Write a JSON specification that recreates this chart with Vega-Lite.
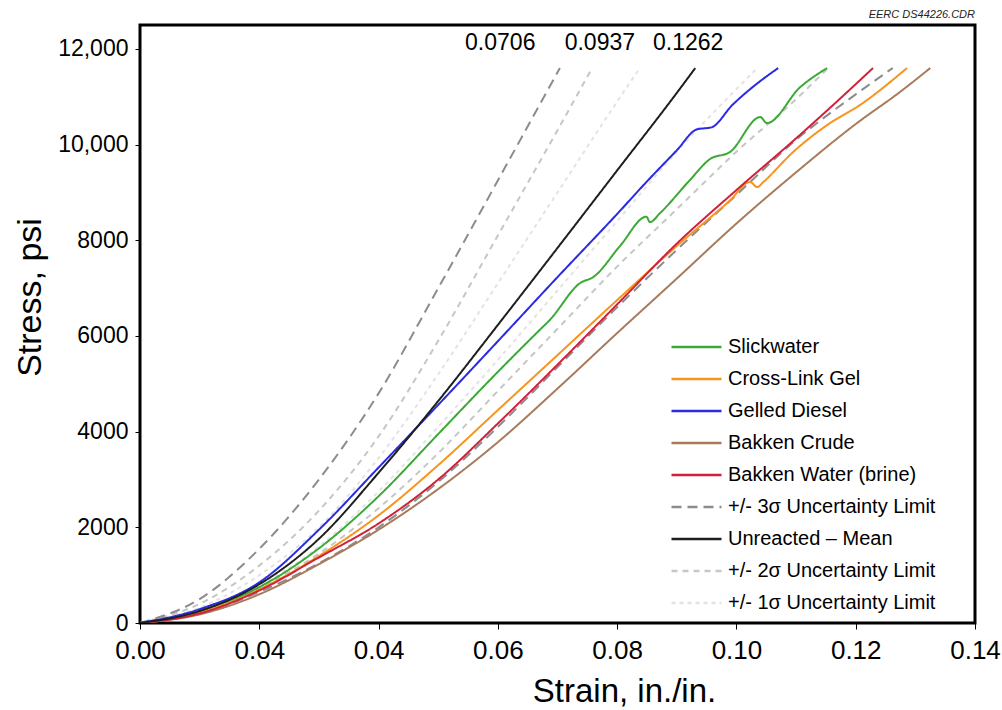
{
  "$schema": "https://vega.github.io/schema/vega-lite/v6.json",
  "autosize": {"type": "none"},
  "padding": {"left": 140, "top": 25, "right": 27, "bottom": 87},
  "width": 835,
  "height": 598,
  "background": "white",
  "title": {"text": "EERC DS44226.CDR", "anchor": "end", "frame": "group", "fontSize": 11, "fontStyle": "italic", "fontWeight": "normal", "font": "Liberation Sans", "color": "#222", "offset": 5},
  "config": {
    "view": {"stroke": "#000", "strokeWidth": 3},
    "axis": {"grid": false, "domain": false, "tickColor": "#000", "labelColor": "#000", "titleColor": "#000", "titleFontWeight": "normal", "labelFlush": false, "labelOverlap": false, "labelBound": false}
  },
  "layer": [
    {
      "data": {"values": [
        {"s":"+/- 1σ Uncertainty Limit","g":"1L","x":0,"y":0},
        {"s":"+/- 1σ Uncertainty Limit","g":"1L","x":0.01,"y":320},
        {"s":"+/- 1σ Uncertainty Limit","g":"1L","x":0.02,"y":1000},
        {"s":"+/- 1σ Uncertainty Limit","g":"1L","x":0.03,"y":2000},
        {"s":"+/- 1σ Uncertainty Limit","g":"1L","x":0.04,"y":3450},
        {"s":"+/- 1σ Uncertainty Limit","g":"1L","x":0.05,"y":5200},
        {"s":"+/- 1σ Uncertainty Limit","g":"1L","x":0.06,"y":7100},
        {"s":"+/- 1σ Uncertainty Limit","g":"1L","x":0.07,"y":9000},
        {"s":"+/- 1σ Uncertainty Limit","g":"1L","x":0.08,"y":10900},
        {"s":"+/- 1σ Uncertainty Limit","g":"1L","x":0.0838,"y":11600},
        {"s":"+/- 1σ Uncertainty Limit","g":"1R","x":0,"y":0},
        {"s":"+/- 1σ Uncertainty Limit","g":"1R","x":0.01,"y":260},
        {"s":"+/- 1σ Uncertainty Limit","g":"1R","x":0.02,"y":780},
        {"s":"+/- 1σ Uncertainty Limit","g":"1R","x":0.03,"y":1600},
        {"s":"+/- 1σ Uncertainty Limit","g":"1R","x":0.04,"y":2750},
        {"s":"+/- 1σ Uncertainty Limit","g":"1R","x":0.05,"y":4100},
        {"s":"+/- 1σ Uncertainty Limit","g":"1R","x":0.06,"y":5500},
        {"s":"+/- 1σ Uncertainty Limit","g":"1R","x":0.07,"y":6950},
        {"s":"+/- 1σ Uncertainty Limit","g":"1R","x":0.08,"y":8400},
        {"s":"+/- 1σ Uncertainty Limit","g":"1R","x":0.09,"y":9850},
        {"s":"+/- 1σ Uncertainty Limit","g":"1R","x":0.1035,"y":11600},
        {"s":"+/- 2σ Uncertainty Limit","g":"2L","x":0,"y":0},
        {"s":"+/- 2σ Uncertainty Limit","g":"2L","x":0.01,"y":400},
        {"s":"+/- 2σ Uncertainty Limit","g":"2L","x":0.02,"y":1200},
        {"s":"+/- 2σ Uncertainty Limit","g":"2L","x":0.03,"y":2350},
        {"s":"+/- 2σ Uncertainty Limit","g":"2L","x":0.04,"y":3900},
        {"s":"+/- 2σ Uncertainty Limit","g":"2L","x":0.05,"y":5900},
        {"s":"+/- 2σ Uncertainty Limit","g":"2L","x":0.06,"y":8100},
        {"s":"+/- 2σ Uncertainty Limit","g":"2L","x":0.07,"y":10300},
        {"s":"+/- 2σ Uncertainty Limit","g":"2L","x":0.0758,"y":11600},
        {"s":"+/- 2σ Uncertainty Limit","g":"2R","x":0,"y":0},
        {"s":"+/- 2σ Uncertainty Limit","g":"2R","x":0.01,"y":230},
        {"s":"+/- 2σ Uncertainty Limit","g":"2R","x":0.02,"y":730},
        {"s":"+/- 2σ Uncertainty Limit","g":"2R","x":0.03,"y":1450},
        {"s":"+/- 2σ Uncertainty Limit","g":"2R","x":0.04,"y":2400},
        {"s":"+/- 2σ Uncertainty Limit","g":"2R","x":0.05,"y":3550},
        {"s":"+/- 2σ Uncertainty Limit","g":"2R","x":0.06,"y":4850},
        {"s":"+/- 2σ Uncertainty Limit","g":"2R","x":0.07,"y":6150},
        {"s":"+/- 2σ Uncertainty Limit","g":"2R","x":0.08,"y":7450},
        {"s":"+/- 2σ Uncertainty Limit","g":"2R","x":0.09,"y":8650},
        {"s":"+/- 2σ Uncertainty Limit","g":"2R","x":0.1,"y":9850},
        {"s":"+/- 2σ Uncertainty Limit","g":"2R","x":0.11,"y":10950},
        {"s":"+/- 2σ Uncertainty Limit","g":"2R","x":0.1154,"y":11600},
        {"s":"+/- 3σ Uncertainty Limit","g":"3L","x":0,"y":0},
        {"s":"+/- 3σ Uncertainty Limit","g":"3L","x":0.01,"y":500},
        {"s":"+/- 3σ Uncertainty Limit","g":"3L","x":0.02,"y":1550},
        {"s":"+/- 3σ Uncertainty Limit","g":"3L","x":0.03,"y":3000},
        {"s":"+/- 3σ Uncertainty Limit","g":"3L","x":0.04,"y":4800},
        {"s":"+/- 3σ Uncertainty Limit","g":"3L","x":0.05,"y":7000},
        {"s":"+/- 3σ Uncertainty Limit","g":"3L","x":0.06,"y":9250},
        {"s":"+/- 3σ Uncertainty Limit","g":"3L","x":0.0704,"y":11600},
        {"s":"+/- 3σ Uncertainty Limit","g":"3R","x":0,"y":0},
        {"s":"+/- 3σ Uncertainty Limit","g":"3R","x":0.01,"y":200},
        {"s":"+/- 3σ Uncertainty Limit","g":"3R","x":0.02,"y":650},
        {"s":"+/- 3σ Uncertainty Limit","g":"3R","x":0.03,"y":1250},
        {"s":"+/- 3σ Uncertainty Limit","g":"3R","x":0.04,"y":2000},
        {"s":"+/- 3σ Uncertainty Limit","g":"3R","x":0.05,"y":2950},
        {"s":"+/- 3σ Uncertainty Limit","g":"3R","x":0.06,"y":4100},
        {"s":"+/- 3σ Uncertainty Limit","g":"3R","x":0.07,"y":5350},
        {"s":"+/- 3σ Uncertainty Limit","g":"3R","x":0.08,"y":6600},
        {"s":"+/- 3σ Uncertainty Limit","g":"3R","x":0.09,"y":7800},
        {"s":"+/- 3σ Uncertainty Limit","g":"3R","x":0.1,"y":8950},
        {"s":"+/- 3σ Uncertainty Limit","g":"3R","x":0.11,"y":10100},
        {"s":"+/- 3σ Uncertainty Limit","g":"3R","x":0.12,"y":11050},
        {"s":"+/- 3σ Uncertainty Limit","g":"3R","x":0.1262,"y":11600},
        {"s":"Bakken Crude","g":"bc","x":0,"y":0},
        {"s":"Bakken Crude","g":"bc","x":0.01,"y":180},
        {"s":"Bakken Crude","g":"bc","x":0.02,"y":600},
        {"s":"Bakken Crude","g":"bc","x":0.03,"y":1230},
        {"s":"Bakken Crude","g":"bc","x":0.04,"y":1950},
        {"s":"Bakken Crude","g":"bc","x":0.05,"y":2800},
        {"s":"Bakken Crude","g":"bc","x":0.06,"y":3780},
        {"s":"Bakken Crude","g":"bc","x":0.07,"y":4900},
        {"s":"Bakken Crude","g":"bc","x":0.08,"y":6060},
        {"s":"Bakken Crude","g":"bc","x":0.09,"y":7200},
        {"s":"Bakken Crude","g":"bc","x":0.1,"y":8350},
        {"s":"Bakken Crude","g":"bc","x":0.11,"y":9420},
        {"s":"Bakken Crude","g":"bc","x":0.12,"y":10430},
        {"s":"Bakken Crude","g":"bc","x":0.1274,"y":11098},
        {"s":"Bakken Crude","g":"bc","x":0.1325,"y":11600},
        {"s":"Cross-Link Gel","g":"cl","x":0,"y":0},
        {"s":"Cross-Link Gel","g":"cl","x":0.01,"y":220},
        {"s":"Cross-Link Gel","g":"cl","x":0.02,"y":700},
        {"s":"Cross-Link Gel","g":"cl","x":0.03,"y":1400},
        {"s":"Cross-Link Gel","g":"cl","x":0.04,"y":2250},
        {"s":"Cross-Link Gel","g":"cl","x":0.05,"y":3300},
        {"s":"Cross-Link Gel","g":"cl","x":0.06,"y":4450},
        {"s":"Cross-Link Gel","g":"cl","x":0.07,"y":5600},
        {"s":"Cross-Link Gel","g":"cl","x":0.08,"y":6750},
        {"s":"Cross-Link Gel","g":"cl","x":0.09,"y":7880},
        {"s":"Cross-Link Gel","g":"cl","x":0.0989,"y":8830},
        {"s":"Cross-Link Gel","g":"cl","x":0.1023,"y":9217},
        {"s":"Cross-Link Gel","g":"cl","x":0.1035,"y":9112},
        {"s":"Cross-Link Gel","g":"cl","x":0.1045,"y":9217},
        {"s":"Cross-Link Gel","g":"cl","x":0.1095,"y":9844},
        {"s":"Cross-Link Gel","g":"cl","x":0.1152,"y":10408},
        {"s":"Cross-Link Gel","g":"cl","x":0.1207,"y":10826},
        {"s":"Cross-Link Gel","g":"cl","x":0.1286,"y":11600},
        {"s":"Bakken Water (brine)","g":"bw","x":0,"y":0},
        {"s":"Bakken Water (brine)","g":"bw","x":0.01,"y":200},
        {"s":"Bakken Water (brine)","g":"bw","x":0.02,"y":680},
        {"s":"Bakken Water (brine)","g":"bw","x":0.03,"y":1370},
        {"s":"Bakken Water (brine)","g":"bw","x":0.04,"y":2080},
        {"s":"Bakken Water (brine)","g":"bw","x":0.05,"y":3000},
        {"s":"Bakken Water (brine)","g":"bw","x":0.06,"y":4170},
        {"s":"Bakken Water (brine)","g":"bw","x":0.07,"y":5400},
        {"s":"Bakken Water (brine)","g":"bw","x":0.08,"y":6660},
        {"s":"Bakken Water (brine)","g":"bw","x":0.09,"y":7930},
        {"s":"Bakken Water (brine)","g":"bw","x":0.1,"y":9050},
        {"s":"Bakken Water (brine)","g":"bw","x":0.11,"y":10130},
        {"s":"Bakken Water (brine)","g":"bw","x":0.1162,"y":10826},
        {"s":"Bakken Water (brine)","g":"bw","x":0.1229,"y":11600},
        {"s":"Slickwater","g":"sw","x":0,"y":0},
        {"s":"Slickwater","g":"sw","x":0.01,"y":260},
        {"s":"Slickwater","g":"sw","x":0.02,"y":750},
        {"s":"Slickwater","g":"sw","x":0.03,"y":1560},
        {"s":"Slickwater","g":"sw","x":0.04,"y":2650},
        {"s":"Slickwater","g":"sw","x":0.05,"y":3950},
        {"s":"Slickwater","g":"sw","x":0.06,"y":5250},
        {"s":"Slickwater","g":"sw","x":0.067,"y":6124},
        {"s":"Slickwater","g":"sw","x":0.0687,"y":6333},
        {"s":"Slickwater","g":"sw","x":0.0738,"y":7106},
        {"s":"Slickwater","g":"sw","x":0.076,"y":7231},
        {"s":"Slickwater","g":"sw","x":0.0806,"y":7900},
        {"s":"Slickwater","g":"sw","x":0.0849,"y":8492},
        {"s":"Slickwater","g":"sw","x":0.0855,"y":8381},
        {"s":"Slickwater","g":"sw","x":0.0872,"y":8569},
        {"s":"Slickwater","g":"sw","x":0.0922,"y":9259},
        {"s":"Slickwater","g":"sw","x":0.0956,"y":9700},
        {"s":"Slickwater","g":"sw","x":0.0989,"y":9844},
        {"s":"Slickwater","g":"sw","x":0.104,"y":10575},
        {"s":"Slickwater","g":"sw","x":0.1051,"y":10450},
        {"s":"Slickwater","g":"sw","x":0.1107,"y":11202},
        {"s":"Slickwater","g":"sw","x":0.1152,"y":11600},
        {"s":"Gelled Diesel","g":"gd","x":0,"y":0},
        {"s":"Gelled Diesel","g":"gd","x":0.01,"y":290},
        {"s":"Gelled Diesel","g":"gd","x":0.02,"y":850},
        {"s":"Gelled Diesel","g":"gd","x":0.03,"y":1950},
        {"s":"Gelled Diesel","g":"gd","x":0.04,"y":3250},
        {"s":"Gelled Diesel","g":"gd","x":0.05,"y":4560},
        {"s":"Gelled Diesel","g":"gd","x":0.06,"y":5890},
        {"s":"Gelled Diesel","g":"gd","x":0.07,"y":7230},
        {"s":"Gelled Diesel","g":"gd","x":0.08,"y":8550},
        {"s":"Gelled Diesel","g":"gd","x":0.085,"y":9230},
        {"s":"Gelled Diesel","g":"gd","x":0.09,"y":9880},
        {"s":"Gelled Diesel","g":"gd","x":0.0934,"y":10320},
        {"s":"Gelled Diesel","g":"gd","x":0.0958,"y":10360},
        {"s":"Gelled Diesel","g":"gd","x":0.0993,"y":10826},
        {"s":"Gelled Diesel","g":"gd","x":0.103,"y":11230},
        {"s":"Gelled Diesel","g":"gd","x":0.107,"y":11600},
        {"s":"Unreacted – Mean","g":"mn","x":0,"y":0},
        {"s":"Unreacted – Mean","g":"mn","x":0.01,"y":250},
        {"s":"Unreacted – Mean","g":"mn","x":0.02,"y":810},
        {"s":"Unreacted – Mean","g":"mn","x":0.03,"y":1760},
        {"s":"Unreacted – Mean","g":"mn","x":0.04,"y":3140},
        {"s":"Unreacted – Mean","g":"mn","x":0.05,"y":4640},
        {"s":"Unreacted – Mean","g":"mn","x":0.06,"y":6230},
        {"s":"Unreacted – Mean","g":"mn","x":0.07,"y":7840},
        {"s":"Unreacted – Mean","g":"mn","x":0.08,"y":9460},
        {"s":"Unreacted – Mean","g":"mn","x":0.09,"y":11080},
        {"s":"Unreacted – Mean","g":"mn","x":0.0931,"y":11600}
      ]},
      "mark": {"type": "line", "strokeWidth": 2, "clip": true, "interpolate": "monotone"},
      "encoding": {
        "x": {"field": "x", "type": "quantitative", "scale": {"domain": [0, 0.14], "nice": false, "zero": false},
          "axis": {"title": "Strain, in./in.", "values": [0, 0.02, 0.04, 0.06, 0.08, 0.1, 0.12, 0.14], "format": ".2f",
            "labelExpr": "datum.label == '0.02' ? '0.04' : datum.label",
            "labelFont": "Liberation Sans", "labelFontSize": 26, "tickSize": 6, "labelPadding": 8,
            "titleFont": "Liberation Sans", "titleFontSize": 33, "titleX": 484, "titleY": 68, "titleBaseline": "middle", "titleAlign": "center"}},
        "y": {"field": "y", "type": "quantitative", "scale": {"domain": [0, 12500], "nice": false},
          "axis": {"title": "Stress, psi", "values": [0, 2000, 4000, 6000, 8000, 10000, 12000],
            "labelExpr": "datum.value >= 10000 ? format(datum.value, ',') : format(datum.value, 'd')",
            "labelFont": "Liberation Sans", "labelFontSize": 23, "tickSize": 5, "labelPadding": 7,
            "titleFont": "Liberation Sans", "titleFontSize": 34, "titleX": -110, "titleY": 272, "titleAngle": -90, "titleBaseline": "middle", "titleAlign": "center"}},
        "detail": {"field": "g"},
        "color": {"field": "s", "type": "nominal",
          "scale": {"domain": ["Slickwater", "Cross-Link Gel", "Gelled Diesel", "Bakken Crude", "Bakken Water (brine)", "+/- 3σ Uncertainty Limit", "Unreacted – Mean", "+/- 2σ Uncertainty Limit", "+/- 1σ Uncertainty Limit"],
            "range": ["#3aaa35", "#f7941d", "#2a2ae0", "#a87b5c", "#d0213a", "#8c8c8c", "#1e1e1e", "#c6c6c6", "#e3e3e3"]},
          "legend": {"title": null, "orient": "none", "legendX": 530, "legendY": 312, "symbolType": "stroke", "symbolSize": 2500, "symbolStrokeWidth": 2.5, "clipHeight": 20, "rowPadding": 12, "labelFont": "Liberation Sans", "labelFontSize": 20, "labelColor": "#000", "labelOffset": 5, "padding": 0, "labelLimit": 400}},
        "strokeDash": {"field": "s", "type": "nominal",
          "scale": {"domain": ["Slickwater", "Cross-Link Gel", "Gelled Diesel", "Bakken Crude", "Bakken Water (brine)", "+/- 3σ Uncertainty Limit", "Unreacted – Mean", "+/- 2σ Uncertainty Limit", "+/- 1σ Uncertainty Limit"],
            "range": [[1, 0], [1, 0], [1, 0], [1, 0], [1, 0], [10, 6], [1, 0], [6, 5], [4, 4]]},
          "legend": {"title": null, "orient": "none", "legendX": 530, "legendY": 312, "symbolType": "stroke", "symbolSize": 2500, "symbolStrokeWidth": 2.5, "clipHeight": 20, "rowPadding": 12, "labelFont": "Liberation Sans", "labelFontSize": 20, "labelColor": "#000", "labelOffset": 5, "padding": 0, "labelLimit": 400}}
      }
    },
    {
      "data": {"values": [
        {"x": 0.0604, "y": 12120, "t": "0.0706"},
        {"x": 0.0771, "y": 12120, "t": "0.0937"},
        {"x": 0.0919, "y": 12120, "t": "0.1262"}
      ]},
      "mark": {"type": "text", "font": "Liberation Sans", "fontSize": 23, "color": "#000", "baseline": "middle", "align": "center"},
      "encoding": {
        "x": {"field": "x", "type": "quantitative"},
        "y": {"field": "y", "type": "quantitative"},
        "text": {"field": "t"}
      }
    }
  ]
}
